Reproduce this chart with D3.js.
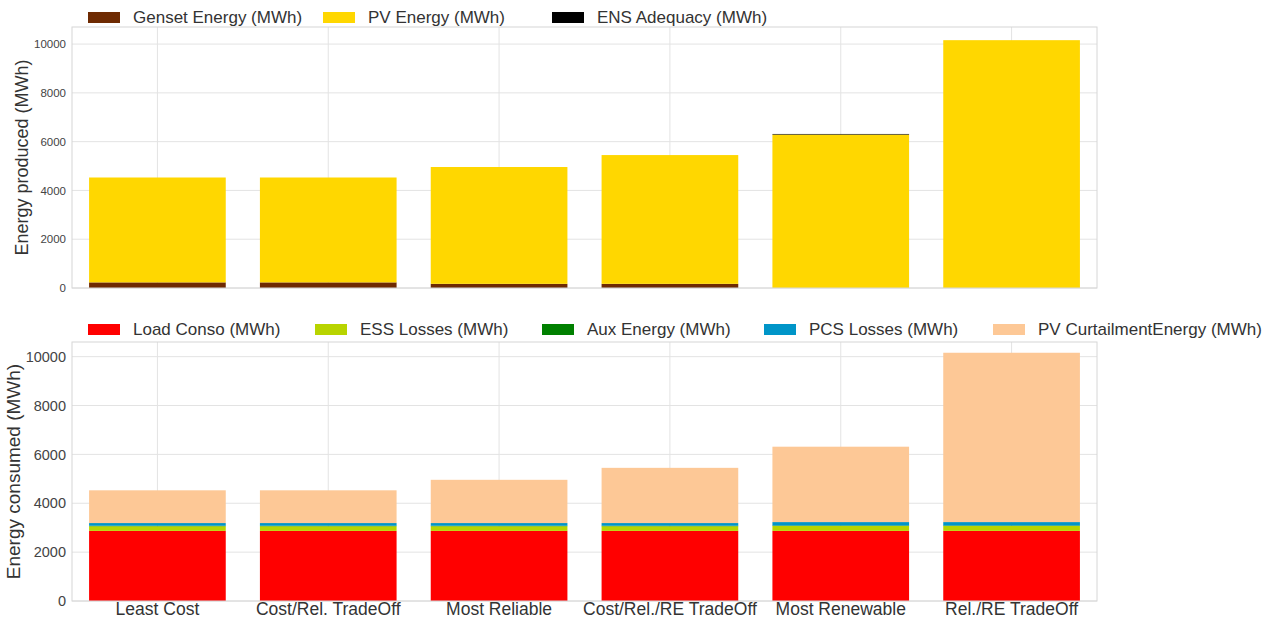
<!DOCTYPE html>
<html>
<head>
<meta charset="utf-8">
<script src="https://cdn.jsdelivr.net/npm/d3@7"></script>
<style>
  body { margin: 0; background: #fff; }
  svg { display: block; font-family: "Liberation Sans", Arial, sans-serif; }
</style>
</head>
<body>
<svg id="chart" width="1273" height="623"></svg>
<script>
// scenarios on the x axis
const scenarios = ["Least Cost", "Cost/Rel. TradeOff", "Most Reliable",
  "Cost/Rel./RE TradeOff", "Most Renewable", "Rel./RE TradeOff"];

// produced (MWh)
const gensetEnergy = [230, 230, 170, 170, 0, 0];
const pvEnergy     = [4300, 4300, 4790, 5280, 6290, 10160];
const ensAdequacy  = [0, 0, 0, 0, 25, 0];

// consumed (MWh)
const loadConso     = [2870, 2870, 2870, 2870, 2870, 2870];
const essLosses     = [190, 190, 190, 190, 200, 200];
const auxEnergy     = [20, 20, 20, 20, 20, 20];
const pcsLosses     = [110, 110, 110, 110, 140, 140];
const pvCurtailment = [1340, 1340, 1770, 2260, 3085, 6930];

const yTicks = [0, 2000, 4000, 6000, 8000, 10000];

const producedSeries = [
  {name: "Genset Energy (MWh)", values: gensetEnergy, color: "#6e2a02"},
  {name: "PV Energy (MWh)", values: pvEnergy, color: "#ffd700"},
  {name: "ENS Adequacy (MWh)", values: ensAdequacy, color: "#000000"}
];
const consumedSeries = [
  {name: "Load Conso (MWh)", values: loadConso, color: "#ff0000"},
  {name: "ESS Losses (MWh)", values: essLosses, color: "#b8d400"},
  {name: "Aux Energy (MWh)", values: auxEnergy, color: "#008000"},
  {name: "PCS Losses (MWh)", values: pcsLosses, color: "#0095c8"},
  {name: "PV CurtailmentEnergy (MWh)", values: pvCurtailment, color: "#fdc896"}
];

const svg = d3.select("#chart");

function panel(opts) {
  const {series, top, bottom, ymax, title, titleX, titleSize, tickSize, showX, legendY, legendX} = opts;
  const left = 72, right = 1097;

  const x = d3.scaleBand().domain(scenarios).range([left, right]).paddingInner(0.2).paddingOuter(0.1);
  const y = d3.scaleLinear().domain([0, ymax]).range([bottom, top]);

  const g = svg.append("g");

  // grid
  g.append("g").selectAll("line").data(yTicks).join("line")
    .attr("x1", left).attr("x2", right)
    .attr("y1", d => y(d)).attr("y2", d => y(d))
    .attr("stroke", "#e3e3e3").attr("stroke-width", 1);
  g.append("g").selectAll("line").data(scenarios).join("line")
    .attr("x1", d => x(d) + x.bandwidth() / 2).attr("x2", d => x(d) + x.bandwidth() / 2)
    .attr("y1", top).attr("y2", bottom)
    .attr("stroke", "#e3e3e3").attr("stroke-width", 1);

  // stacked bars
  const rows = scenarios.map((s, i) => {
    const r = {scenario: s};
    series.forEach(se => r[se.name] = se.values[i]);
    return r;
  });
  const stack = d3.stack().keys(series.map(s => s.name))(rows);
  g.append("g").selectAll("g").data(stack).join("g")
    .attr("fill", (d, i) => series[i].color)
    .selectAll("rect").data(d => d).join("rect")
      .attr("x", d => x(d.data.scenario))
      .attr("width", x.bandwidth())
      .attr("y", d => y(d[1]))
      .attr("height", d => y(d[0]) - y(d[1]));

  // frame
  g.append("rect").attr("x", left).attr("y", top)
    .attr("width", right - left).attr("height", bottom - top)
    .attr("fill", "none").attr("stroke", "#d6d6d6");

  // y axis
  const ya = g.append("g").attr("transform", `translate(${left},0)`)
    .call(d3.axisLeft(y).tickValues(yTicks).tickSize(0).tickPadding(6).tickFormat(d3.format("d")));
  ya.select(".domain").remove();
  ya.selectAll("text").attr("font-size", tickSize).attr("fill", "#444")
    .attr("font-family", "Liberation Sans, Arial, sans-serif");

  if (showX) {
    const xa = g.append("g").attr("transform", `translate(0,${bottom})`)
      .call(d3.axisBottom(x).tickSize(0).tickPadding(2));
    xa.select(".domain").remove();
    xa.selectAll("text").attr("font-size", 17.5).attr("fill", "#333")
      .attr("font-family", "Liberation Sans, Arial, sans-serif");
  }

  g.append("text")
    .attr("transform", `translate(${titleX},${(top + bottom) / 2}) rotate(-90)`)
    .attr("text-anchor", "middle")
    .attr("font-size", titleSize).attr("fill", "#333")
    .text(title);

  // legend
  const lg = g.append("g").selectAll("g").data(series).join("g")
    .attr("transform", (d, i) => `translate(${legendX[i]},${legendY})`);
  lg.append("rect").attr("x", 0).attr("y", -5).attr("width", 32).attr("height", 11)
    .attr("fill", d => d.color);
  lg.append("text").attr("x", 45).attr("y", 0).attr("dy", "0.35em")
    .attr("font-size", 17).attr("fill", "#333").text(d => d.name);
}

panel({
  series: producedSeries, top: 27, bottom: 288, ymax: 10700,
  title: "Energy produced (MWh)", titleX: 28, titleSize: 18, tickSize: 11.5,
  showX: false, legendY: 17, legendX: [88, 323, 552]
});

panel({
  series: consumedSeries, top: 342, bottom: 601, ymax: 10600,
  title: "Energy consumed (MWh)", titleX: 20, titleSize: 19, tickSize: 14.5,
  showX: true, legendY: 329, legendX: [88, 315, 542, 764, 993]
});
</script>
</body>
</html>
